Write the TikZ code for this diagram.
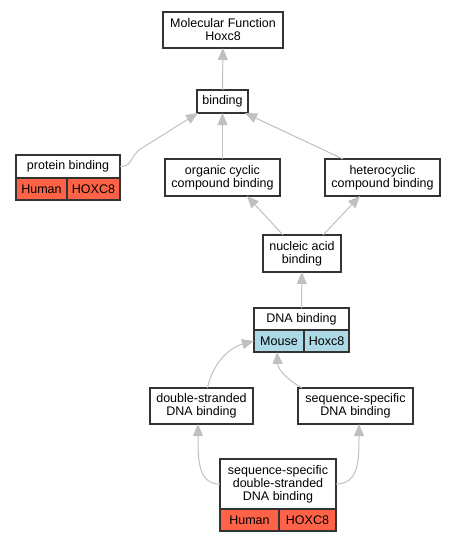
\documentclass[tikz,border=0pt]{standalone}
\usepackage{fontspec}
\setmainfont{Liberation Sans}
\usetikzlibrary{arrows.meta,positioning}
\definecolor{tomato}{HTML}{FF6347}
\definecolor{lightblue}{HTML}{ADD8E6}
\definecolor{edgegray}{HTML}{C0C0C0}
\tikzset{
  term/.style={draw=black!80, line width=1.1pt, fill=white, align=center, inner sep=0pt,
    outer sep=0pt, font=\fontsize{12.5}{13}\selectfont},
  cell/.style={term, minimum height=22pt, anchor=north west},
  human/.style={cell, fill=tomato},
  mouse/.style={cell, fill=lightblue},
  isa/.style={draw=edgegray, line width=1pt, -{Triangle[width=10pt,length=12pt]}}
}
\begin{document}
\begin{tikzpicture}[x=1pt,y=-1pt]
\useasboundingbox (0,0) rectangle (456,541);
% Top terms
\node[term, minimum width=120pt, minimum height=36pt] (mf) at (223,30) {Molecular Function\\Hoxc8};
\node[term, minimum width=51pt, minimum height=23pt] (bind) at (222.5,101.5) {binding};
% protein binding (human annotation)
\node[term, minimum width=104pt, minimum height=23pt] (prot) at (68,166.5) {protein binding};
\node[human, minimum width=51pt] (protsp) at (prot.south west) {Human};
\node[human, minimum width=53pt] (protgn) at (protsp.north east) {HOXC8};
% Compound binding
\node[term, minimum width=115pt, minimum height=37pt] (orgc) at (222.5,177.5) {organic cyclic\\compound binding};
\node[term, minimum width=115pt, minimum height=37pt] (hetc) at (382.5,177.5) {heterocyclic\\compound binding};
\node[term, minimum width=78pt, minimum height=37pt] (nucl) at (302,253.5) {nucleic acid\\binding};
% DNA binding (mouse annotation)
\node[term, minimum width=95pt, minimum height=22pt] (dna) at (301.5,319) {DNA binding};
\node[mouse, minimum width=50pt] (dnasp) at (dna.south west) {Mouse};
\node[mouse, minimum width=45pt] (dnagn) at (dnasp.north east) {Hoxc8};
% DNA binding children
\node[term, minimum width=103pt, minimum height=36pt] (dsb) at (201.5,406) {double-stranded\\DNA binding};
\node[term, minimum width=115pt, minimum height=36pt] (ssb) at (355.5,406) {sequence-specific\\DNA binding};
\node[term, minimum width=116pt, minimum height=50pt] (ssds) at (278,484) {sequence-specific\\double-stranded\\DNA binding};
\node[human, minimum width=59pt] (ssdssp) at (ssds.south west) {Human};
\node[human, minimum width=57pt] (ssdsgn) at (ssdssp.north east) {HOXC8};
% is_a edges
\draw[isa] (bind) -- (mf);
\draw[isa] (orgc) -- (bind);
\draw[isa] (prot.east) .. controls +(14,0) and (128,157) .. (142,148) -- ([xshift=1pt]bind.south west);
\draw[isa] ([xshift=18pt]hetc.north west) -- ([xshift=-3pt]bind.south east);
\draw[isa] ([xshift=20pt]nucl.north west) -- ([xshift=-33pt]orgc.south east);
\draw[isa] ([xshift=-18pt]nucl.north east) -- ([xshift=35pt]hetc.south west);
\draw[isa] (dna) -- (nucl);
\draw[isa] ([xshift=6pt]dsb.north) .. controls (212,365) and (228,348) .. (dnasp.west);
\draw[isa] ([xshift=4pt]ssb.north west) .. controls (288,380) and (278,370) .. ([xshift=-2pt]dnasp.south);
\draw[isa] (ssds.west) .. controls (198,484) and (198,460) .. ([xshift=-3.5pt]dsb.south);
\draw[isa] (ssds.east) .. controls (359,484) and (359,460) .. ([xshift=3.5pt]ssb.south);
\end{tikzpicture}
\end{document}
